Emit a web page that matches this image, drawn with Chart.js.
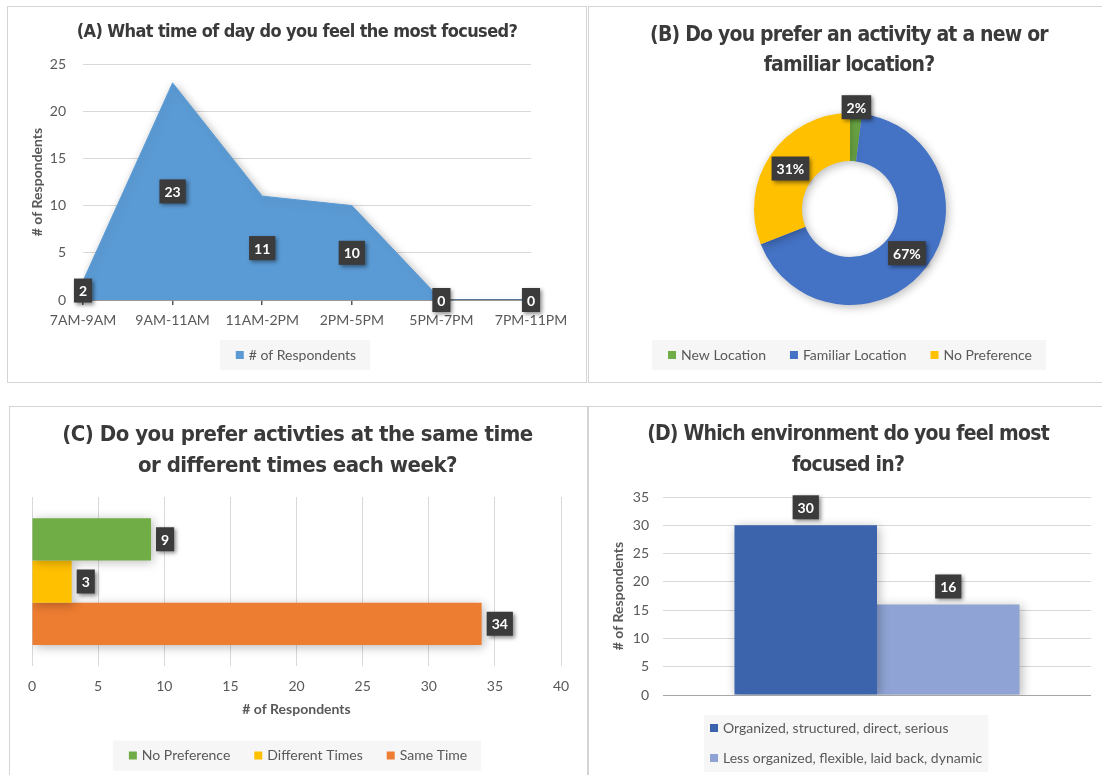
<!DOCTYPE html>
<html>
<head>
<meta charset="utf-8">
<script src="https://cdn.jsdelivr.net/npm/chart.js@4.4.1/dist/chart.umd.min.js"></script>
<style>
  body { margin: 0; background: #fff; width: 1102px; height: 775px; overflow: hidden; position: relative; }
  .panel { position: absolute; border: 1.5px solid #d4d4d4; box-sizing: border-box; }
  canvas { position: absolute; left: 0; top: 0; }
</style>
</head>
<body>
<div class="panel" style="left:7px;top:6px;width:580px;height:377px"></div>
<div class="panel" style="left:588px;top:6px;width:530px;height:377px"></div>
<div class="panel" style="left:9px;top:406px;width:579px;height:390px"></div>
<div class="panel" style="left:588px;top:406px;width:530px;height:390px"></div>
<canvas id="chartA" width="1102" height="775"></canvas>
<canvas id="chartB" width="1102" height="775"></canvas>
<canvas id="chartC" width="1102" height="775"></canvas>
<canvas id="chartD" width="1102" height="775"></canvas>
<script>
// datos de cada gráfico
const timeSlots = ['7AM-9AM', '9AM-11AM', '11AM-2PM', '2PM-5PM', '5PM-7PM', '7PM-11PM'];
const focusCounts = [2, 23, 11, 10, 0, 0];

const locationLabels = ['New Location', 'Familiar Location', 'No Preference'];
const locationShares = [2, 67, 31];

const scheduleLabels = ['No Preference', 'Different Times', 'Same Time'];
const scheduleCounts = [9, 3, 34];

const envLabels = ['Organized, structured, direct, serious', 'Less organized, flexible, laid back, dynamic'];
const envCounts = [30, 16];

// colores
const locationColors = ['#70AD47', '#4472C4', '#FFC000'];
const scheduleColors = ['#70AD47', '#FFC000', '#ED7D31'];
const envColors = ['#3B64AD', '#8FA4D5'];

const FONT = 'Lato, "Liberation Sans", sans-serif';
const TITLE_FONT = '"Liberation Sans Narrow", "DejaVu Sans Condensed", sans-serif';
const TEXT = '#595959';

Chart.defaults.font.family = FONT;
Chart.defaults.font.size = 14;
Chart.defaults.color = TEXT;

// etiqueta oscura con sombra
function drawTag(ctx, text, cx, cy) {
    ctx.save();
    ctx.font = 'bold 14px ' + FONT;
    const w = ctx.measureText(text).width + 10;
    const h = 24;
    ctx.shadowColor = 'rgba(0,0,0,0.45)';
    ctx.shadowBlur = 4;
    ctx.shadowOffsetX = 2;
    ctx.shadowOffsetY = 2;
    ctx.fillStyle = '#3b3b3b';
    ctx.fillRect(cx - w / 2, cy - h / 2, w, h);
    ctx.shadowColor = 'transparent';
    ctx.fillStyle = '#ffffff';
    ctx.textAlign = 'center';
    ctx.textBaseline = 'middle';
    ctx.fillText(text, cx, cy + 1);
    ctx.restore();
}

function drawTags(chart, mode) {
    const ctx = chart.ctx;
    chart.data.datasets.forEach(function(ds, di) {
        const meta = chart.getDatasetMeta(di);
        const total = ds.data.reduce((a, b) => a + b, 0);
        meta.data.forEach(function(el, i) {
            const v = ds.data[i];
            let text = String(v), x, y;
            if (mode === 'half') {
                x = el.x;
                y = chart.scales.y.getPixelForValue(v / 2);
            } else if (mode === 'right') {
                ctx.font = 'bold 14px ' + FONT;
                const w = ctx.measureText(text).width + 10;
                x = el.x + 5 + w / 2;
                y = el.y;
            } else if (mode === 'top') {
                x = el.x;
                y = el.y - 18;
            } else if (mode === 'arc') {
                const p = el.getProps(['x', 'y', 'startAngle', 'endAngle', 'innerRadius', 'outerRadius'], true);
                const mid = (p.startAngle + p.endAngle) / 2;
                const frac = (p.endAngle - p.startAngle) / (Math.PI * 2);
                const r = frac < 0.05 ? p.outerRadius + 6 : (p.innerRadius + p.outerRadius) / 2;
                x = p.x + Math.cos(mid) * r;
                y = p.y + Math.sin(mid) * r;
                text = Math.round(v / total * 100) + '%';
            }
            drawTag(ctx, text, x, y);
        });
    });
}

function drawTitle(ctx, t) {
    ctx.save();
    ctx.font = 'bold ' + t.size + 'px ' + TITLE_FONT;
    ctx.letterSpacing = t.spacing + 'px';
    ctx.fillStyle = '#3a3a3a';
    ctx.textAlign = 'center';
    ctx.textBaseline = 'alphabetic';
    t.lines.forEach((line, i) => ctx.fillText(line, t.x, t.baselines[i]));
    ctx.restore();
}

function legendItems(chart) {
    if (chart.config.type === 'doughnut') {
        return chart.data.labels.map((t, i) => ({ text: t, color: chart.data.datasets[0].backgroundColor[i] }));
    }
    return chart.data.datasets.map(d => ({ text: d.label, color: d.backgroundColor }));
}

function drawLegend(ctx, items, o) {
    ctx.save();
    ctx.font = '14px ' + FONT;
    ctx.textBaseline = 'middle';
    const widths = items.map(it => ctx.measureText(it.text).width);
    if (o.vertical) {
        const maxW = Math.max.apply(null, widths);
        ctx.fillStyle = '#f6f6f6';
        ctx.fillRect(o.left - 6, o.top - 13, maxW + 25, (items.length - 1) * o.rowGap + 27);
        items.forEach(function(it, i) {
            const cy = o.top + i * o.rowGap;
            ctx.fillStyle = it.color;
            ctx.fillRect(o.left, cy - 4, 8, 8);
            ctx.fillStyle = TEXT;
            ctx.fillText(it.text, o.left + 13, cy);
        });
    } else {
        const gap = 24;
        const total = widths.reduce((a, w) => a + w + 13, 0) + gap * (items.length - 1);
        let x = o.cx - total / 2;
        ctx.fillStyle = '#f6f6f6';
        ctx.fillRect(x - 16, o.cy - 15, total + 30, 30);
        items.forEach(function(it, i) {
            ctx.fillStyle = it.color;
            ctx.fillRect(x, o.cy - 4, 8, 8);
            ctx.fillStyle = TEXT;
            ctx.fillText(it.text, x + 13, o.cy);
            x += 13 + widths[i] + gap;
        });
    }
    ctx.restore();
}

// plugin para títulos, leyendas, etiquetas y sombras
const deco = {
    id: 'deco',
    beforeDatasetsDraw(chart) {
        const ctx = chart.ctx;
        ctx.save();
        ctx.shadowColor = 'rgba(0,0,0,0.28)';
        ctx.shadowBlur = 10;
        ctx.shadowOffsetX = 2;
        ctx.shadowOffsetY = 2;
    },
    afterDatasetsDraw(chart) {
        chart.ctx.restore();
    },
    afterDraw(chart, args, o) {
        const ctx = chart.ctx;
        drawTitle(ctx, o.title);
        drawLegend(ctx, legendItems(chart), o.legend);
        drawTags(chart, o.tags);
    }
};
Chart.register(deco);

const baseOptions = {
    responsive: false,
    animation: false,
    events: [],
    plugins: { legend: { display: false }, tooltip: { enabled: false } }
};

function fixWidth(w) { return function(scale) { scale.width = w; }; }
function fixHeight(h) { return function(scale) { scale.height = h; }; }

// (A) Gráfico de área
new Chart(document.getElementById('chartA'), {
    type: 'line',
    data: {
        labels: timeSlots,
        datasets: [{
            label: '# of Respondents',
            data: focusCounts,
            fill: 'origin',
            backgroundColor: '#5B9BD5',
            borderColor: '#5B9BD5',
            borderWidth: 1,
            pointRadius: 0,
            tension: 0
        }]
    },
    options: {
        ...baseOptions,
        layout: { padding: { left: 23, right: 571, top: 64, bottom: 435 } },
        scales: {
            x: {
                offset: false,
                z: 1,
                grid: { drawOnChartArea: false, drawTicks: true, tickLength: 5, color: '#595959', lineWidth: 1.5 },
                border: { display: true, color: '#595959', width: 1.5 },
                ticks: { autoSkip: false, maxRotation: 0, padding: 7 },
                afterFit: fixHeight(40)
            },
            y: {
                min: 0, max: 25,
                ticks: { stepSize: 5, padding: 17 },
                grid: { color: '#d9d9d9', drawTicks: false },
                border: { display: false },
                title: { display: true, text: '# of Respondents', font: { size: 14, weight: 'bold' }, padding: { top: 6, bottom: 0 } },
                afterFit: fixWidth(60)
            }
        },
        plugins: {
            ...baseOptions.plugins,
            deco: {
                title: { lines: ['(A) What time of day do you feel the most focused?'], x: 297, baselines: [37], size: 18, spacing: -0.6 },
                legend: { cx: 296, cy: 355 },
                tags: 'half'
            }
        }
    }
});

// (B) Gráfico de anillo
new Chart(document.getElementById('chartB'), {
    type: 'doughnut',
    data: {
        labels: locationLabels,
        datasets: [{ data: locationShares, backgroundColor: locationColors, borderWidth: 0 }]
    },
    options: {
        ...baseOptions,
        cutout: '50%',
        layout: { padding: { left: 754, right: 156, top: 113, bottom: 470 } },
        plugins: {
            ...baseOptions.plugins,
            deco: {
                title: { lines: ['(B) Do you prefer an activity at a new or', 'familiar location?'], x: 849, baselines: [41, 71], size: 21, spacing: -0.8 },
                legend: { cx: 850, cy: 355 },
                tags: 'arc'
            }
        }
    }
});

// (C) Barras horizontales
new Chart(document.getElementById('chartC'), {
    type: 'bar',
    data: {
        labels: [''],
        datasets: scheduleLabels.map((l, i) => ({
            label: l,
            data: [scheduleCounts[i]],
            backgroundColor: scheduleColors[i]
        }))
    },
    options: {
        ...baseOptions,
        indexAxis: 'y',
        categoryPercentage: 0.75,
        barPercentage: 1,
        layout: { padding: { left: 32, right: 541, top: 497, bottom: 53 } },
        scales: {
            x: {
                min: 0, max: 40,
                ticks: { stepSize: 5, padding: 12 },
                grid: { color: '#d9d9d9', drawTicks: false },
                border: { display: false },
                title: { display: true, text: '# of Respondents', font: { size: 14, weight: 'bold' }, padding: { top: 0, bottom: 4 } },
                afterFit: fixHeight(56)
            },
            y: { display: false }
        },
        plugins: {
            ...baseOptions.plugins,
            deco: {
                title: { lines: ['(C) Do you prefer activties at the same time', 'or different times each week?'], x: 297.5, baselines: [441, 471.5], size: 22, spacing: -0.5 },
                legend: { cx: 298, cy: 755.5 },
                tags: 'right'
            }
        }
    }
});

// (D) Barras verticales
new Chart(document.getElementById('chartD'), {
    type: 'bar',
    data: {
        labels: [''],
        datasets: envLabels.map((l, i) => ({
            label: l,
            data: [envCounts[i]],
            backgroundColor: envColors[i]
        }))
    },
    options: {
        ...baseOptions,
        categoryPercentage: 0.666,
        barPercentage: 1,
        layout: { padding: { left: 603, right: 11, top: 497, bottom: 80 } },
        scales: {
            x: { display: false },
            y: {
                min: 0, max: 35,
                ticks: { stepSize: 5, padding: 14 },
                grid: {
                    color: ctx => ctx.tick && ctx.tick.value === 0 ? '#a6a6a6' : '#d9d9d9',
                    drawTicks: false
                },
                border: { display: false },
                title: { display: true, text: '# of Respondents', font: { size: 14, weight: 'bold' }, padding: { top: 7, bottom: 0 } },
                afterFit: fixWidth(60)
            }
        },
        plugins: {
            ...baseOptions.plugins,
            deco: {
                title: { lines: ['(D) Which environment do you feel most', 'focused in?'], x: 848, baselines: [440, 471], size: 21, spacing: -0.8 },
                legend: { vertical: true, left: 710, top: 728, rowGap: 30 },
                tags: 'top'
            }
        }
    }
});
</script>
</body>
</html>
